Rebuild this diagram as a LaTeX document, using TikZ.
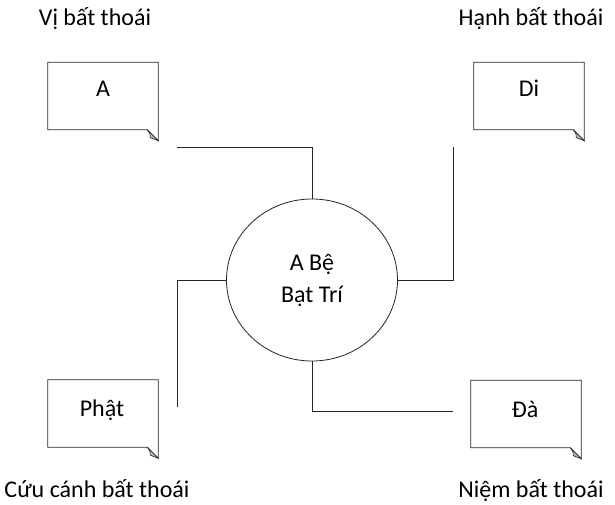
\documentclass[tikz,border=0pt]{standalone}
\usepackage{fontspec}
\setmainfont{Carlito}
\usetikzlibrary{shapes.geometric,calc}
\begin{document}
\begin{tikzpicture}[x=1pt,y=-1pt,
  every node/.style={font=\fontsize{24}{28}\selectfont, inner sep=0pt},
  notebox/.style={minimum width=110pt, minimum height=67pt, draw=none},
  txt/.style={anchor=base},
  conn/.style={line width=0.8pt, draw=black!85},
  outline/.style={line width=0.8pt, draw=black!85},
  foldfill/.style={fill=black!30, draw=black!85, line width=0.6pt}]
\useasboundingbox (0,0) rectangle (615,505);
% note boxes
\node[notebox] (bA) at (103,96) {};
\node[notebox] (bDi) at (529,96) {};
\node[notebox] (bP) at (103,413.5) {};
\node[notebox] (bD) at (526,414) {};
\foreach \b in {bA,bDi,bP,bD}{
  \draw[outline] (\b.north west) -- (\b.north east) -- ([yshift=-11pt]\b.south east)
     -- ([xshift=-11pt]\b.south east) -- (\b.south west) -- cycle;
  \draw[foldfill] ([yshift=-11pt]\b.south east) -- ([xshift=-11pt]\b.south east)
     .. controls ([xshift=-8pt,yshift=-4pt]\b.south east) .. ([xshift=-8pt,yshift=-8pt]\b.south east) -- cycle;
}
% texts in boxes
\node[txt] (tA) at (103,97) {A};
\node[txt] (tDi) at (529,97) {Di};
\node[txt] (tP) at (102,416) {Phật};
\node[txt] (tD) at (525,417) {Đà};
% labels
\node[txt] (lA) at (95,26) {Vị bất thoái};
\node[txt] (lDi) at (531,26) {Hạnh bất thoái};
\node[txt] (lP) at (97,497) {Cứu cánh bất thoái};
\node[txt] (lD) at (531,497) {Niệm bất thoái};
% center circle
\node[ellipse, draw=black!85, line width=0.8pt, minimum width=171pt, minimum height=162pt, align=center,
  font=\fontsize{24}{32}\selectfont] (C) at (312,280) {A Bệ\\Bạt Trí};
% connector free ends
\coordinate (eA) at (177,147);
\coordinate (eDi) at (453,147);
\coordinate (eP) at (177,407);
\coordinate (eD) at (453,411);
\draw[conn] (eA) -- (eA -| C.north) -- (C.north);
\draw[conn] (C.east) -- (C.east -| eDi) -- (eDi);
\draw[conn] (C.west) -- (C.west -| eP) -- (eP);
\draw[conn] (C.south) -- (C.south |- eD) -- (eD);
\end{tikzpicture}
\end{document}
